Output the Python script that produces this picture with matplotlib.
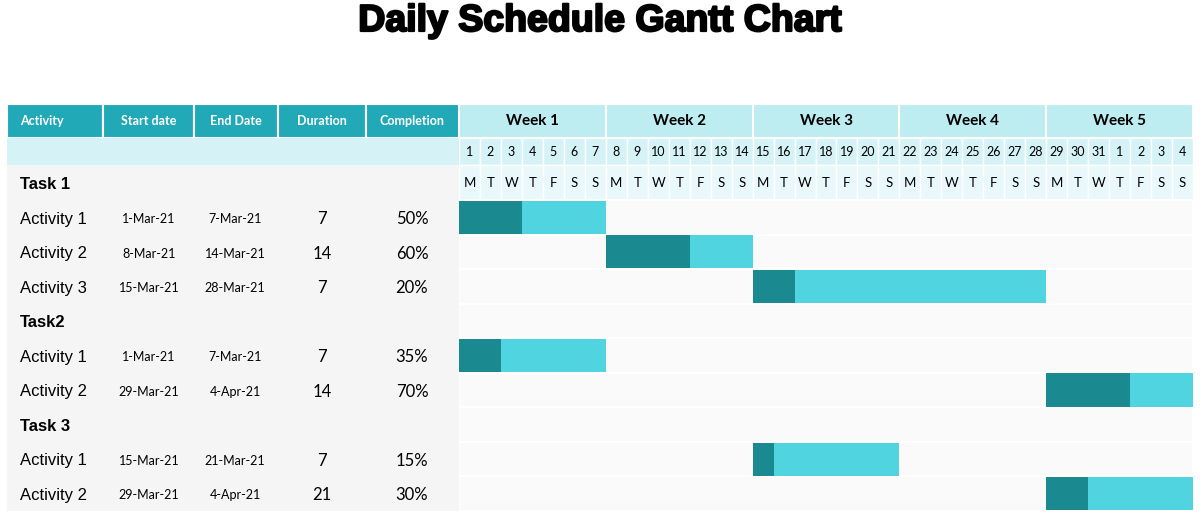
import matplotlib.pyplot as plt
import matplotlib.patheffects as pe
import pandas as pd
from matplotlib.patches import Rectangle

plt.rcParams["font.family"] = ["Lato", "DejaVu Sans"]

TITLE = "Daily Schedule Gantt Chart"
HEADERS = ["Activity", "Start date", "End Date", "Duration", "Completion"]
WEEKS = ["Week 1", "Week 2", "Week 3", "Week 4", "Week 5"]
DAY_NUMBERS = [1, 2, 3, 4, 5, 6, 7, 8, 9, 10, 11, 12, 13, 14, 15, 16, 17, 18,
               19, 20, 21, 22, 23, 24, 25, 26, 27, 28, 29, 30, 31, 1, 2, 3, 4]
WEEKDAY_LETTERS = ["M", "T", "W", "T", "F", "S", "S"]
FIRST_DAY = "1-Mar-21"

ROW_LABELS = ["Task 1", "Activity 1", "Activity 2", "Activity 3", "Task2",
              "Activity 1", "Activity 2", "Task 3", "Activity 1", "Activity 2"]
IS_TASK = [True, False, False, False, True, False, False, True, False, False]
START_DATES = ["", "1-Mar-21", "8-Mar-21", "15-Mar-21", "", "1-Mar-21",
               "29-Mar-21", "", "15-Mar-21", "29-Mar-21"]
END_DATES = ["", "7-Mar-21", "14-Mar-21", "28-Mar-21", "", "7-Mar-21",
             "4-Apr-21", "", "21-Mar-21", "4-Apr-21"]
DURATIONS = [None, 7, 14, 7, None, 7, 14, None, 7, 21]
COMPLETION = [None, 50, 60, 20, None, 35, 70, None, 15, 30]
# completed part of each bar, in days, as drawn
DONE_DAYS = [None, 3, 4, 2, None, 2, 4, None, 1, 2]

# layout (pixels of a 1200x518 figure)
W, H = 1200, 518
TOP_PX, BOTTOM_PX = 104, 511
LEFT_PX, SPLIT_PX, RIGHT_PX = 7, 459, 1193
COL_EDGES = [7, 103, 194, 278, 366, 459]
WEEK_TOP, DAY_TOP, DOW_TOP = -2.78, -1.79, -1.0
N_ROWS = 9

TEAL = "#21a9b8"
WEEK_BG = "#bdedf1"
DAY_BG = "#d5f3f6"
DOW_BG = "#e9f9fb"
GRAY_BG = "#f5f5f5"
ROW_BG = "#fafafa"
DARK = "#1b8990"
LIGHT = "#50d4e0"

fig = plt.figure(figsize=(12, 5.18), dpi=100)
fig.text(0.5, 1 - 21 / H, TITLE, ha="center", va="center", fontsize=27,
         fontweight="bold", family=["Liberation Sans", "DejaVu Sans"],
         path_effects=[pe.withStroke(linewidth=1.6, foreground="black")])

bottom = 1 - BOTTOM_PX / H
height = (BOTTOM_PX - TOP_PX) / H

# ---- left table ----
axl = fig.add_axes([LEFT_PX / W, bottom, (SPLIT_PX - LEFT_PX) / W, height])
axl.set_xlim(LEFT_PX, SPLIT_PX)
axl.set_ylim(N_ROWS, WEEK_TOP)
axl.axis("off")

for i in range(len(HEADERS)):
    x0, x1 = COL_EDGES[i], COL_EDGES[i + 1]
    axl.add_patch(Rectangle((x0, WEEK_TOP), x1 - x0, DAY_TOP - WEEK_TOP,
                            facecolor=TEAL, edgecolor="white", lw=1.5))
    if i == 0:
        axl.text(20, (WEEK_TOP + DAY_TOP) / 2, HEADERS[i], color="white",
                 fontsize=9, fontweight="bold", ha="left", va="center")
    else:
        axl.text((x0 + x1) / 2, (WEEK_TOP + DAY_TOP) / 2, HEADERS[i],
                 color="white", fontsize=9, fontweight="bold",
                 ha="center", va="center")
axl.add_patch(Rectangle((LEFT_PX, DAY_TOP), SPLIT_PX - LEFT_PX,
                        DOW_TOP - DAY_TOP, facecolor=DAY_BG, lw=0))
axl.add_patch(Rectangle((LEFT_PX, DOW_TOP), SPLIT_PX - LEFT_PX,
                        N_ROWS - DOW_TOP, facecolor=GRAY_BG, lw=0))

for r, label in enumerate(ROW_LABELS):
    y = r - 0.45
    if IS_TASK[r]:
        axl.text(20, y, label, fontsize=12, fontweight="bold", ha="left",
                 va="center", family=["Liberation Sans", "DejaVu Sans"])
        continue
    axl.text(20, y, label, fontsize=12, ha="left", va="center",
             family=["Liberation Sans", "DejaVu Sans"])
    axl.text(149, y, START_DATES[r], fontsize=9, ha="center", va="center")
    axl.text(235, y, END_DATES[r], fontsize=9, ha="center", va="center")
    axl.text(322, y, str(DURATIONS[r]), fontsize=12, ha="center", va="center")
    axl.text(412, y, f"{COMPLETION[r]}%", fontsize=12, ha="center",
             va="center")

# ---- gantt part ----
ax = fig.add_axes([SPLIT_PX / W, bottom, (RIGHT_PX - SPLIT_PX) / W, height])
n_days = len(DAY_NUMBERS)
ax.set_xlim(0, n_days)
ax.set_ylim(N_ROWS, WEEK_TOP)
ax.axis("off")

for w, week in enumerate(WEEKS):
    ax.add_patch(Rectangle((w * 7, WEEK_TOP), 7, DAY_TOP - WEEK_TOP,
                           facecolor=WEEK_BG, edgecolor="white", lw=1.5))
    ax.text(w * 7 + 3.5, (WEEK_TOP + DAY_TOP) / 2, week, fontsize=11,
            fontweight="bold", ha="center", va="center")

for d, num in enumerate(DAY_NUMBERS):
    ax.add_patch(Rectangle((d, DAY_TOP), 1, DOW_TOP - DAY_TOP,
                           facecolor=DAY_BG, edgecolor="white", lw=1))
    ax.add_patch(Rectangle((d, DOW_TOP), 1, 1, facecolor=DOW_BG,
                           edgecolor="white", lw=1))
    ax.text(d + 0.5, (DAY_TOP + DOW_TOP) / 2, str(num), fontsize=9,
            ha="center", va="center")
    ax.text(d + 0.5, DOW_TOP + 0.5, WEEKDAY_LETTERS[d % 7], fontsize=9.5,
            ha="center", va="center")

for r in range(N_ROWS):
    ax.add_patch(Rectangle((0, r), n_days, 1, facecolor=ROW_BG,
                           edgecolor="white", lw=1.5))

day0 = pd.to_datetime(FIRST_DAY, format="%d-%b-%y")
for r in range(len(ROW_LABELS)):
    if IS_TASK[r]:
        continue
    start = (pd.to_datetime(START_DATES[r], format="%d-%b-%y") - day0).days
    end = (pd.to_datetime(END_DATES[r], format="%d-%b-%y") - day0).days + 1
    y = r - 0.5
    ax.barh(y, end - start, left=start, height=0.96, color=LIGHT)
    ax.barh(y, DONE_DAYS[r], left=start, height=0.96, color=DARK)

fig.savefig("out.png", dpi=100)
